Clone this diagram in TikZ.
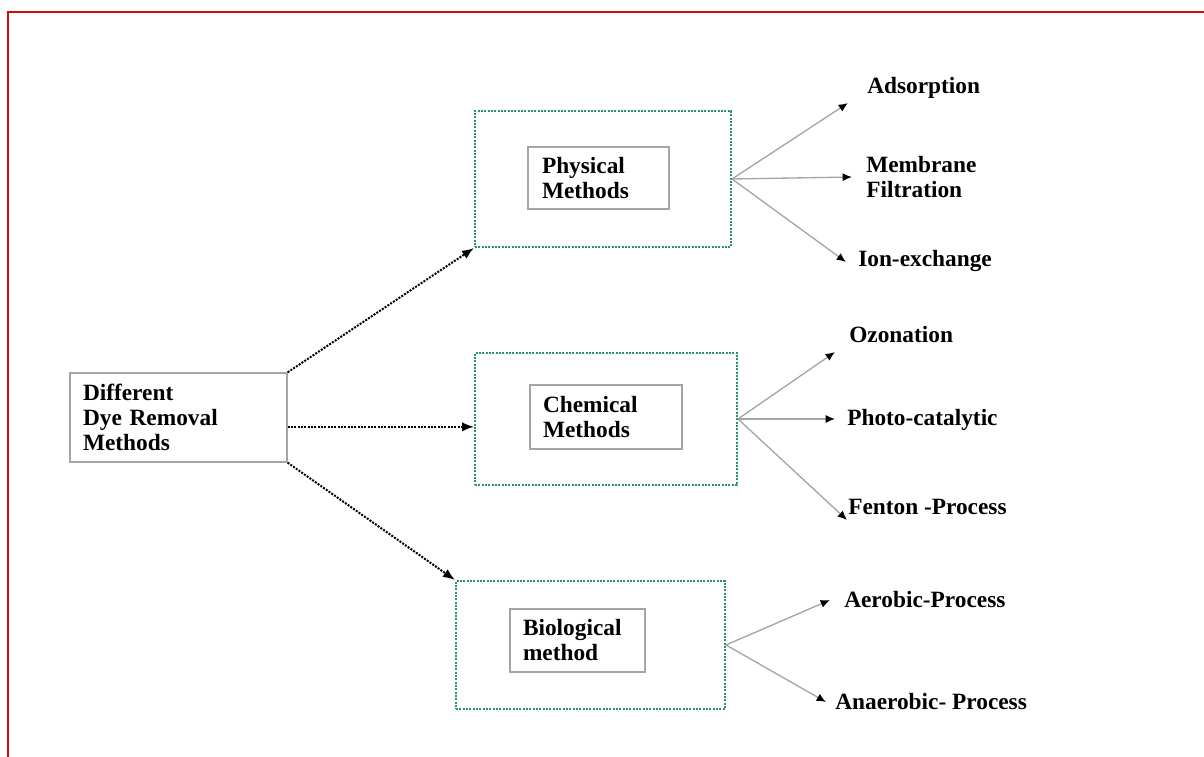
\documentclass[tikz,border=0pt]{standalone}
\usepackage{fontspec}
\setmainfont{Liberation Serif}
\usetikzlibrary{arrows.meta,positioning}
\definecolor{dotteal}{RGB}{40,145,115}
\definecolor{framered}{RGB}{200,16,16}
\definecolor{linegray}{RGB}{165,165,165}

\begin{document}
\begin{tikzpicture}[x=0.75pt,y=-0.75pt,font=\bfseries\fontsize{17.5}{18.75}\selectfont]
            % Define the styles for the boxes and arrows
            \tikzset{
                mainbox/.style = {rectangle, draw=linegray, line width=1pt, align=left},
                groupbox/.style = {rectangle, draw=dotteal, densely dotted, line width=1.5pt},
                methodbox/.style = {rectangle, draw=linegray, line width=1pt, align=left},
                leaf/.style = {anchor=west, inner sep=0pt, align=left},
                mainarrow/.style = {densely dotted, line width=1.5pt, -{Latex[length=9pt,width=7pt]}},
                leafarrow/.style = {draw=linegray, line width=1pt, -{Latex[length=7pt,width=6pt,color=black]}}
            }
            \useasboundingbox (0,0) rectangle (1204,757);

            % Frame
            \draw[framered, line width=2pt] (8,757) -- (8,12) -- (1204,12);

            % Nodes position
            \node[mainbox, minimum width=162.75pt, minimum height=66.75pt, text width=143.25pt, inner xsep=9.75pt] (dye) at (178.5,417.5) {Different\\Dye Removal\\Methods};

            \node[groupbox, minimum width=192pt, minimum height=102pt] (physOut) at (603,179) {};
            \node[groupbox, minimum width=196.5pt, minimum height=99pt] (chemOut) at (606,419) {};
            \node[groupbox, minimum width=201.75pt, minimum height=96pt] (bioOut) at (590.5,645) {};

            \node[methodbox, minimum width=105.75pt, minimum height=46.5pt, text width=84.75pt, inner xsep=10.5pt] (physIn) at (598.5,178) {Physical\\Methods};
            \node[methodbox, minimum width=114pt, minimum height=48pt, text width=94.5pt, inner xsep=9.75pt] (chemIn) at (606,417) {Chemical\\Methods};
            \node[methodbox, minimum width=101.25pt, minimum height=47.25pt, text width=81.75pt, inner xsep=9.75pt] (bioIn) at (577.5,640.5) {Biological\\method};

            % Leaves
            \node[leaf] (ads) at (867,88) {Adsorption};
            \node[leaf] (mem) at (866,177) {Membrane\\Filtration};
            \node[leaf] (ion) at (858,261) {Ion-exchange};
            \node[leaf] (ozo) at (849,335) {Ozonation};
            \node[leaf] (pho) at (847,420) {Photo-catalytic};
            \node[leaf] (fen) at (848,507) {Fenton -Process};
            \node[leaf] (aer) at (844,600) {Aerobic-Process};
            \node[leaf] (ana) at (835,702) {Anaerobic- Process};

            % Arrow tips beside the leaves
            \coordinate (adsTip) at (848,103);
            \coordinate (memTip) at (852,177);
            \coordinate (ionTip) at (846,262);
            \coordinate (ozoTip) at (835,352);
            \coordinate (phoTip) at (835,419);
            \coordinate (fenTip) at (847,520);
            \coordinate (aerTip) at (830,600);
            \coordinate (anaTip) at (826,702);

            % Arrows
            \draw[mainarrow] (dye.north east) -- (physOut.south west);
            \draw[mainarrow] ([yshift=-7pt]dye.east) -- ([yshift=-7pt]dye.east -| chemOut.west);
            \draw[mainarrow] (dye.south east) -- (bioOut.north west);

            \draw[leafarrow] (physOut.east) -- (adsTip);
            \draw[leafarrow] (physOut.east) -- (memTip);
            \draw[leafarrow] (physOut.east) -- (ionTip);
            \draw[leafarrow] (chemOut.east) -- (ozoTip);
            \draw[leafarrow] (chemOut.east) -- (phoTip);
            \draw[leafarrow] (chemOut.east) -- (fenTip);
            \draw[leafarrow] (bioOut.east) -- (aerTip);
            \draw[leafarrow] (bioOut.east) -- (anaTip);
        \end{tikzpicture}
\end{document}
